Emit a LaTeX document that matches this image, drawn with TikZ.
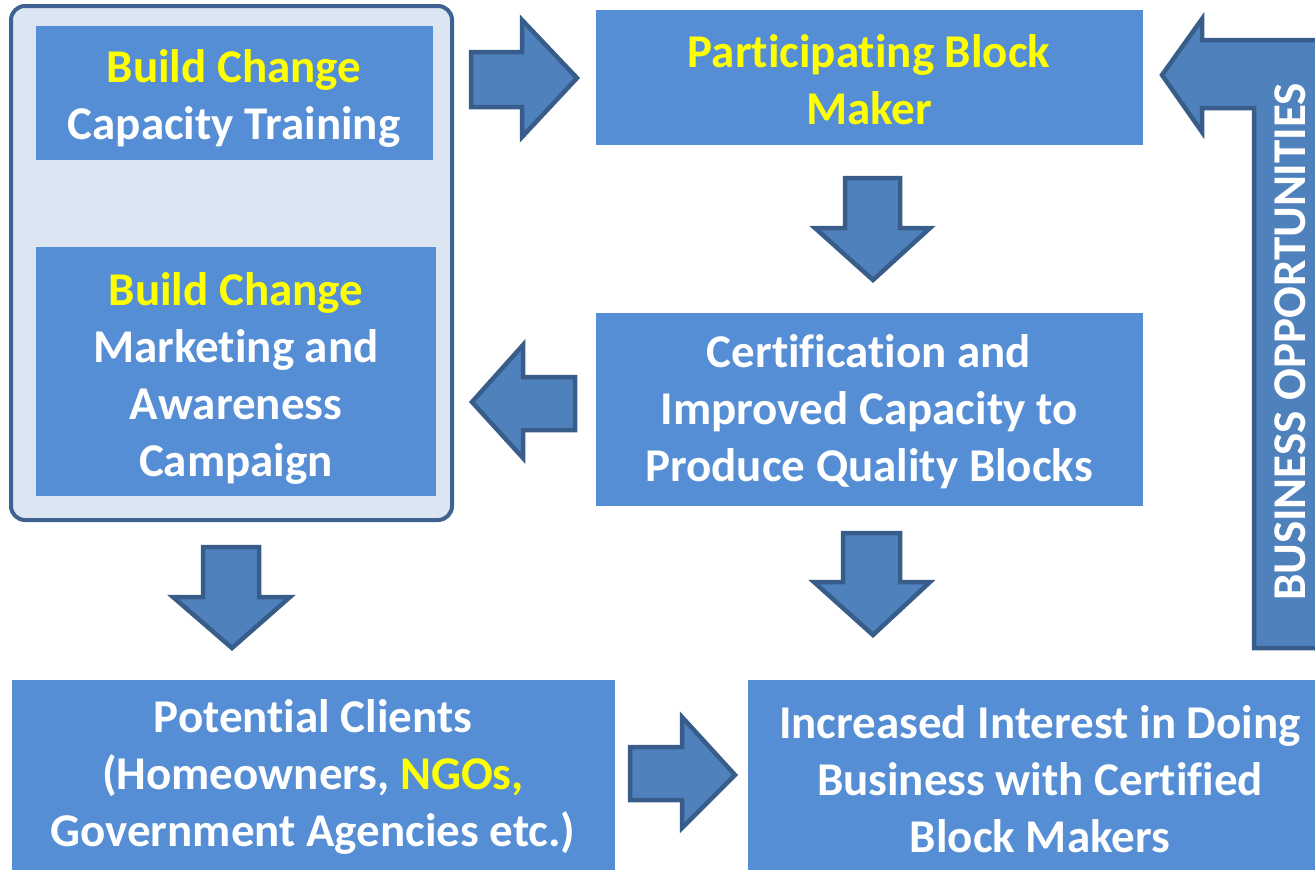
\documentclass[tikz,border=0pt]{standalone}
\usepackage{fontspec}
\setmainfont{Carlito}[Ligatures={NoCommon,NoRare,NoContextual}]
\definecolor{boxblue}{RGB}{85,142,213}
\definecolor{arrowfill}{RGB}{79,129,189}
\definecolor{arrowline}{RGB}{56,93,138}
\definecolor{panelfill}{RGB}{220,230,242}
\definecolor{panelline}{RGB}{62,98,146}
\definecolor{hl}{RGB}{255,255,0}
\begin{document}
\begin{tikzpicture}[x=1pt,y=-1pt,
  panel/.style={fill=panelfill,draw=panelline,line width=4pt,rounded corners=14pt},
  bluebox/.style={fill=boxblue,draw=none,inner sep=0pt,anchor=north west},
  lbl/.style={text=white,font=\bfseries\fontsize{47}{57}\selectfont,align=center,inner sep=0pt},
  vlbl/.style={text=white,font=\bfseries\fontsize{47}{57}\selectfont,inner sep=0pt,rotate=90},
  blockarrow/.style={fill=arrowfill,draw=arrowline,line width=4.5pt,line join=miter}]
\useasboundingbox (0,0) rectangle (1315,870);

% left panel
\draw[panel] (11,6) rectangle (452,520);

% boxes
\node[bluebox,minimum width=397pt,minimum height=134pt] (cap) at (36,26) {};
\node[bluebox,minimum width=400pt,minimum height=249pt] (mkt) at (36,247) {};
\node[bluebox,minimum width=547pt,minimum height=135pt] (pbm) at (596,10) {};
\node[bluebox,minimum width=547pt,minimum height=193pt] (cert) at (596,313) {};
\node[bluebox,minimum width=603pt,minimum height=195pt] (pc) at (12,680) {};
\node[bluebox,minimum width=590pt,minimum height=195pt] (ii) at (748,680) {};

% texts
\node[lbl] (capT) at (234,98) {{\color{hl}Build Change}\\Capacity Training};
\node[lbl] (mktT) at (236,378) {{\color{hl}Build Change}\\Marketing and\\Awareness\\Campaign};
\node[lbl,text=hl] (pbmT) at (869,80) {Participating Block\\Maker};
\node[lbl] (certT) at (869,412) {Certification and\\Improved Capacity to\\Produce Quality Blocks};
\node[lbl] (pcT) at (313,777) {Potential Clients\\(Homeowners, {\color{hl}NGOs,}\\Government Agencies etc.)};
\node[lbl] (iiT) at (1040,779) {Increased Interest in Doing\\Business with Certified\\Block Makers};

% block arrows
\draw[blockarrow] (471,52) -- (522,52) -- (522,20) -- (577,78) -- (522,137) -- (522,107) -- (471,107) -- cycle;
\draw[blockarrow] (845,178) -- (900,178) -- (900,228) -- (930,228) -- (873,280) -- (815,228) -- (845,228) -- cycle;
\draw[blockarrow] (575,377) -- (523,377) -- (523,345) -- (472,402) -- (523,458) -- (523,430) -- (575,430) -- cycle;
\draw[blockarrow] (843,533) -- (900,533) -- (900,582) -- (930,582) -- (873,635) -- (814,582) -- (843,582) -- cycle;
\draw[blockarrow] (203,547) -- (259,547) -- (259,597) -- (290,597) -- (232,648) -- (173,597) -- (203,597) -- cycle;
\draw[blockarrow] (630,747) -- (682,747) -- (682,717) -- (735,775) -- (682,828) -- (682,800) -- (630,800) -- cycle;

% bent arrow
\draw[blockarrow] (1162,75) -- (1202,19) -- (1202,40) -- (1322,40) -- (1322,648) -- (1254,648) -- (1254,108) -- (1202,108) -- (1202,132) -- cycle;
\node[vlbl] (bo) at (1290,342) {BUSINESS OPPORTUNITIES};
\end{tikzpicture}
\end{document}
